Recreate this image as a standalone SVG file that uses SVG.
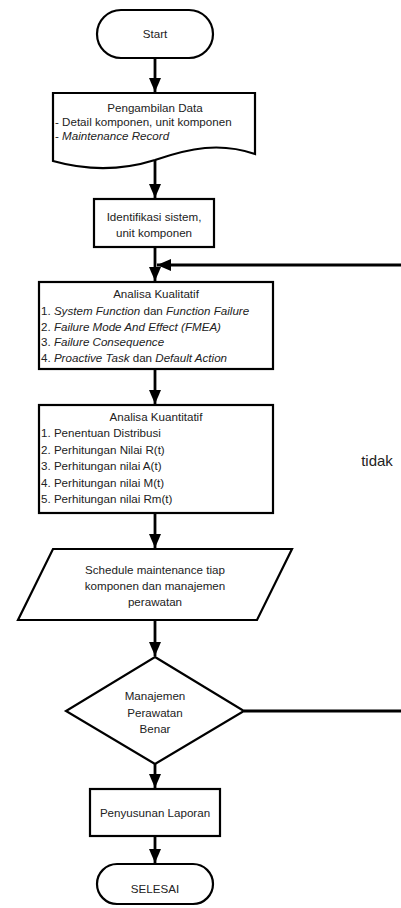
<svg xmlns="http://www.w3.org/2000/svg" width="401" height="908" viewBox="0 0 401 908">
<style>
.s{fill:#fff;stroke:#000;stroke-width:2.2}
.c{fill:none;stroke:#000;stroke-width:2.8}
text{font-family:"Liberation Sans",Arial,sans-serif;font-size:11.6px;fill:#222}
.m{text-anchor:middle}
.i{font-style:italic}
</style>
<defs>
<marker id="ah" viewBox="0 0 14 12" refX="14" refY="6" markerWidth="14" markerHeight="12" markerUnits="userSpaceOnUse" orient="auto">
<path d="M0,0 L14,6 L0,12 Z" fill="#000"/>
</marker>
</defs>
<rect width="401" height="908" fill="#fff"/>
<g id="connectors">
<line class="c" x1="155" y1="58" x2="155" y2="92" marker-end="url(#ah)"/>
<line class="c" x1="155" y1="160" x2="155" y2="198" marker-end="url(#ah)"/>
<line class="c" x1="155" y1="247" x2="155" y2="281" marker-end="url(#ah)"/>
<line class="c" x1="155" y1="369" x2="155" y2="404" marker-end="url(#ah)"/>
<line class="c" x1="155" y1="513" x2="155" y2="548" marker-end="url(#ah)"/>
<line class="c" x1="155" y1="620" x2="155" y2="656" marker-end="url(#ah)"/>
<line class="c" x1="155" y1="764" x2="155" y2="788" marker-end="url(#ah)"/>
<line class="c" x1="155" y1="836" x2="155" y2="863" marker-end="url(#ah)"/>
<path class="c" d="M244,711 H403 V265 H157" marker-end="url(#ah)"/>
<text x="377" y="466" class="m" style="font-size:15px">tidak</text>
</g>
<g id="start">
<rect class="s" x="97" y="10" width="116" height="48" rx="24"/>
<text x="155" y="38" class="m">Start</text>
</g>
<g id="pengambilan">
<path class="s" d="M53,93 H255 V154 C220,142 190,148 155,160 C120,171 85,170 53,161 Z"/>
<text x="155" y="112" class="m">Pengambilan Data</text>
<text x="55" y="126">- Detail komponen, unit komponen</text>
<text x="55" y="140">- <tspan class="i">Maintenance Record</tspan></text>
</g>
<g id="identifikasi">
<rect class="s" x="94" y="199" width="120" height="48"/>
<text x="154" y="221" class="m">Identifikasi sistem,</text>
<text x="154" y="237" class="m">unit komponen</text>
</g>
<g id="kualitatif">
<rect class="s" x="39" y="282" width="234" height="87"/>
<text x="156" y="298" class="m">Analisa Kualitatif</text>
<text x="41" y="315">1. <tspan class="i">System Function</tspan> dan <tspan class="i">Function Failure</tspan></text>
<text x="41" y="331">2. <tspan class="i">Failure Mode And Effect (FMEA)</tspan></text>
<text x="41" y="346">3. <tspan class="i">Failure Consequence</tspan></text>
<text x="41" y="362">4. <tspan class="i">Proactive Task</tspan> dan <tspan class="i">Default Action</tspan></text>
</g>
<g id="kuantitatif">
<rect class="s" x="39" y="405" width="234" height="108"/>
<text x="156" y="421" class="m">Analisa Kuantitatif</text>
<text x="41" y="437">1. Penentuan Distribusi</text>
<text x="41" y="454">2. Perhitungan Nilai R(t)</text>
<text x="41" y="470">3. Perhitungan nilai A(t)</text>
<text x="41" y="487">4. Perhitungan nilai M(t)</text>
<text x="41" y="503">5. Perhitungan nilai Rm(t)</text>
</g>
<g id="schedule">
<path class="s" d="M53,549 H292 L257,620 H18 Z"/>
<text x="155" y="574" class="m">Schedule maintenance tiap</text>
<text x="155" y="590" class="m">komponen dan manajemen</text>
<text x="155" y="606" class="m">perawatan</text>
</g>
<g id="keputusan">
<path class="s" d="M155,657 L244,711 L155,764 L66,711 Z"/>
<text x="155" y="700" class="m">Manajemen</text>
<text x="155" y="717" class="m">Perawatan</text>
<text x="155" y="733" class="m">Benar</text>
</g>
<g id="laporan">
<rect class="s" x="90" y="789" width="130" height="47"/>
<text x="155" y="817" class="m">Penyusunan Laporan</text>
</g>
<g id="selesai">
<rect class="s" x="97" y="864" width="116" height="40" rx="20"/>
<text x="155" y="893" class="m">SELESAI</text>
</g>
</svg>
